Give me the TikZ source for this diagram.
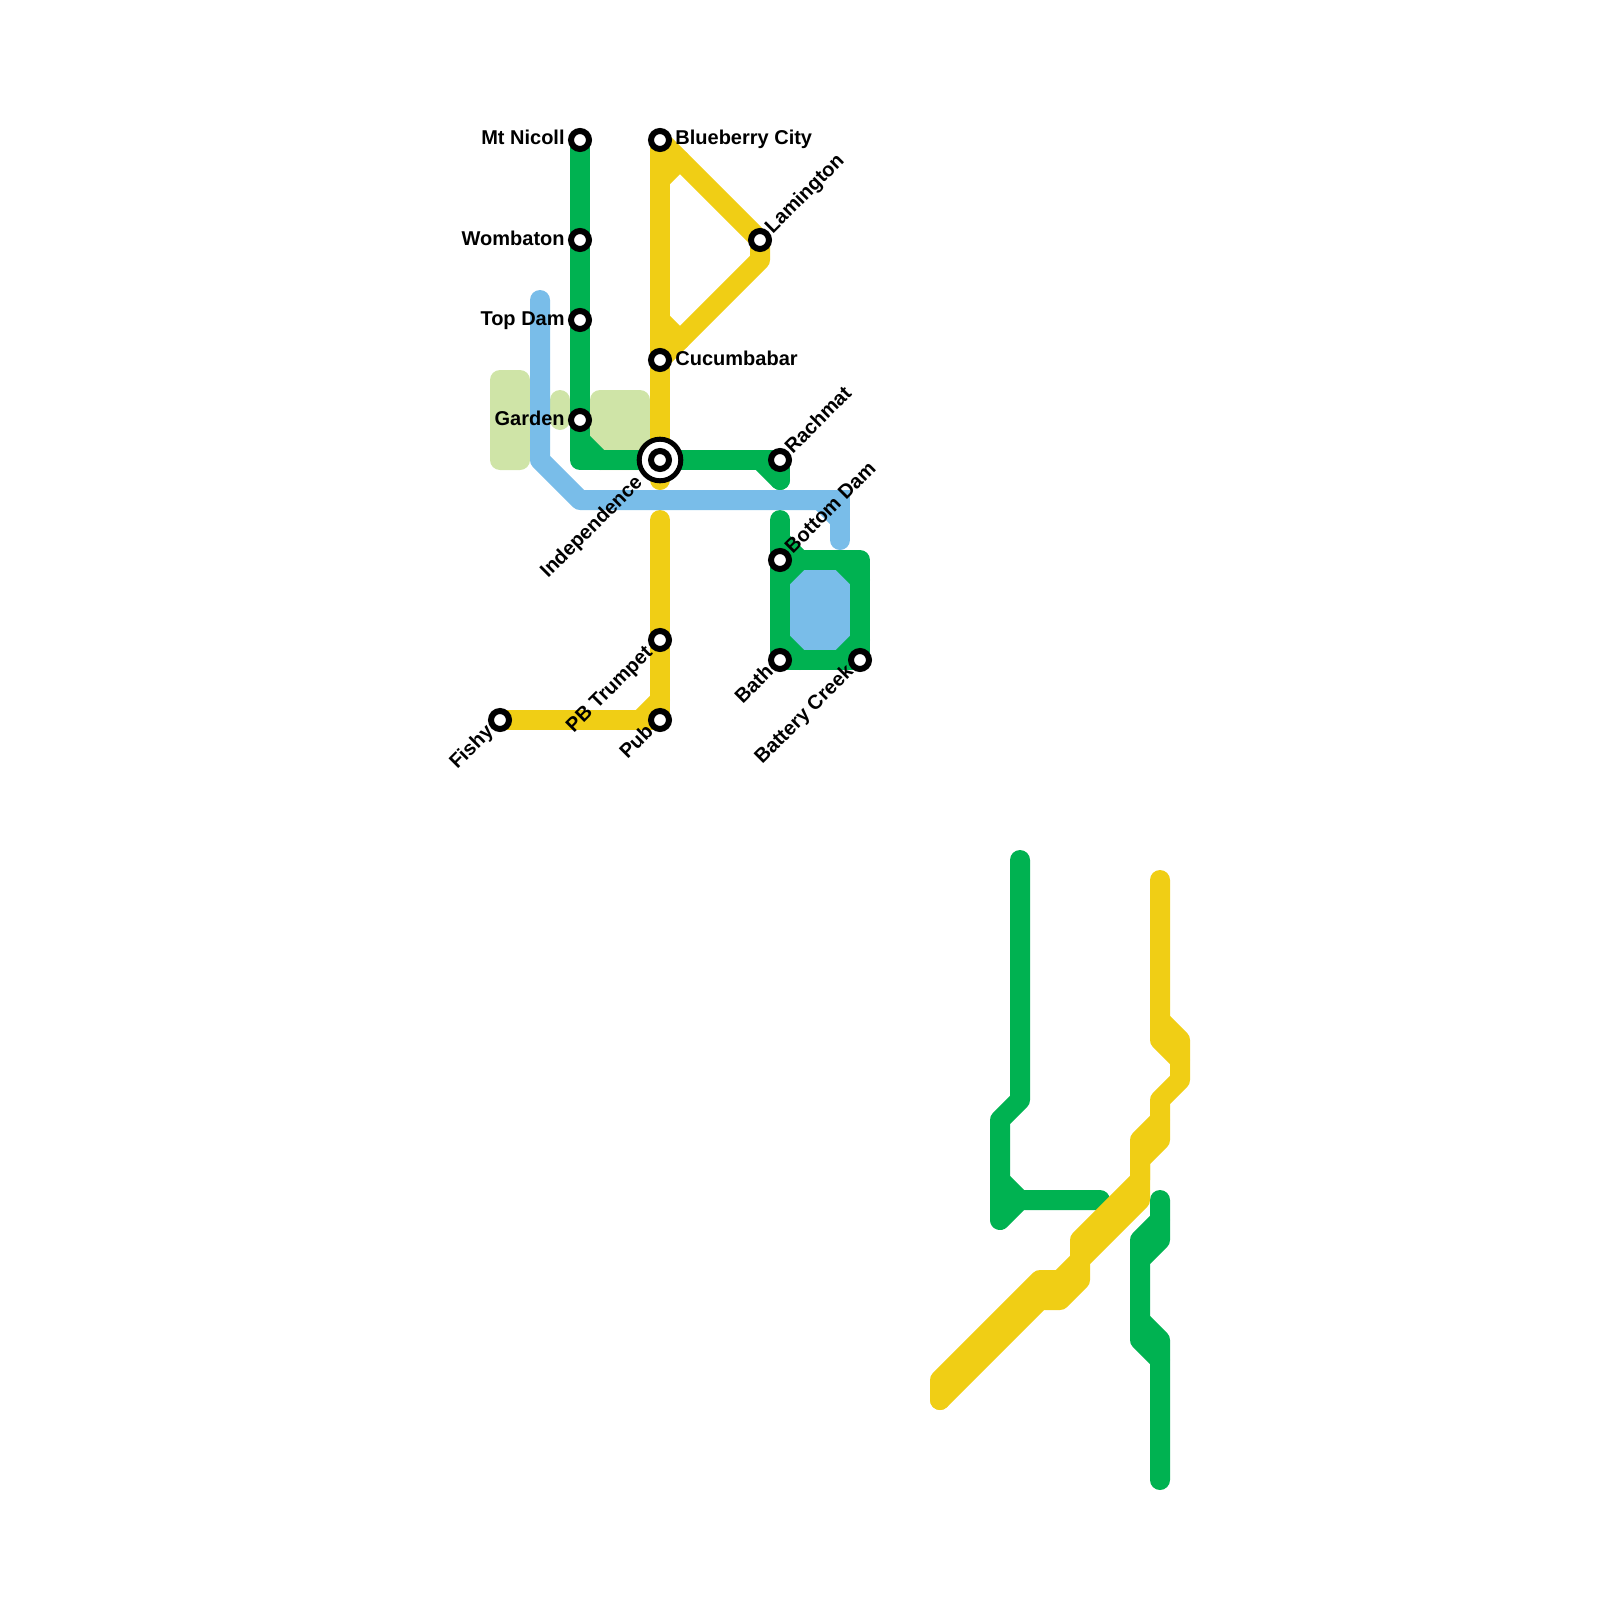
\documentclass[tikz,border=0pt]{standalone}
\usepackage{fontspec}
\setmainfont{Liberation Sans}
\usetikzlibrary{positioning, backgrounds}
\definecolor{grnc}{HTML}{00B251}
\definecolor{ylwc}{HTML}{F0CE15}
\definecolor{bluc}{HTML}{79BDE9}
\definecolor{parkc}{HTML}{CFE4A7}
\tikzset{
  stn/.style={circle, draw=black, fill=white, line width=3pt, minimum size=9pt, inner sep=0pt},
  hub/.style={stn, line width=2.5pt, minimum size=20.8pt},
  lbl/.style={font=\bfseries\fontsize{10}{11}\selectfont, inner sep=0pt, text height=7.5pt, text depth=2.5pt},
  lblup/.style={lbl, rotate=45, anchor=west},
  lbldn/.style={lbl, rotate=45, anchor=east},
  rte/.style={line width=10pt, line cap=round, line join=round},
  grn/.style={rte, draw=grnc},
  ylw/.style={rte, draw=ylwc},
  blu/.style={rte, draw=bluc},
  park/.style={fill=parkc, rounded corners=5pt},
}
\begin{document}
\begin{tikzpicture}[x=0.5pt, y=-0.5pt, node distance=1.5pt]
  \useasboundingbox (0,0) rectangle (1600,1600);
  % stations
  \node[stn] (nicoll) at (580,140) {};
  \node[stn] (wombaton) at (580,240) {};
  \node[stn] (topdam) at (580,320) {};
  \node[stn] (garden) at (580,420) {};
  \node[stn] (blueberry) at (660,140) {};
  \node[stn] (lamington) at (760,240) {};
  \node[stn] (cucumba) at (660,360) {};
  \node[hub] (indepring) at (660,460) {};
  \node[stn] (indep) at (660,460) {};
  \node[stn] (rachmat) at (780,460) {};
  \node[stn] (botdam) at (780,560) {};
  \node[stn] (bath) at (780,660) {};
  \node[stn] (battery) at (860,660) {};
  \node[stn] (trumpet) at (660,640) {};
  \node[stn] (pub) at (660,720) {};
  \node[stn] (fishy) at (500,720) {};
  % labels
  \node[lbl, left=of nicoll] (lnicoll) {Mt Nicoll};
  \node[lbl, left=of wombaton] (lwombaton) {Wombaton};
  \node[lbl, left=of topdam] (ltopdam) {Top Dam};
  \node[lbl, left=of garden] (lgarden) {Garden};
  \node[lbl, right=of blueberry] (lblueberry) {Blueberry City};
  \node[lbl, right=of cucumba] (lcucumba) {Cucumbabar};
  \node[lblup] (llamington) at ([shift={(9,-9)}]lamington.center) {Lamington};
  \node[lblup] (lrachmat) at ([shift={(9,-9)}]rachmat.center) {Rachmat};
  \node[lblup] (lbotdam) at ([shift={(9,-9)}]botdam.center) {Bottom Dam};
  \node[lbldn] (lindep) at ([shift={(-20,20)}]indep.center) {Independence};
  \node[lbldn] (ltrumpet) at ([shift={(-10,10)}]trumpet.center) {PB Trumpet};
  \node[lbldn] (lpub) at ([shift={(-9,9)}]pub.center) {Pub};
  \node[lbldn] (lfishy) at ([shift={(-9,9)}]fishy.center) {Fishy};
  \node[lbldn] (lbath) at ([shift={(-9,9)}]bath.center) {Bath};
  \node[lbldn] (lbattery) at ([shift={(-9,9)}]battery.center) {Battery Creek};
  % bends, upper map
  \coordinate (ga) at (580,440); \coordinate (gb) at (580,460); \coordinate (gc) at (600,460);
  \coordinate (gd) at (760,460); \coordinate (ge) at (780,480); \coordinate (gf) at (780,520);
  \coordinate (gg) at (780,540); \coordinate (gh) at (800,560); \coordinate (gi) at (860,560);
  \coordinate (gj) at (780,580); \coordinate (gk) at (840,560); \coordinate (gl) at (860,580);
  \coordinate (gm) at (860,640); \coordinate (gn) at (840,660); \coordinate (go) at (800,660);
  \coordinate (gp) at (780,640);
  \coordinate (ya) at (660,180); \coordinate (yb) at (680,160); \coordinate (yc) at (760,260);
  \coordinate (yd) at (660,320); \coordinate (ye) at (680,340); \coordinate (yf) at (660,480);
  \coordinate (yg) at (660,520); \coordinate (yh) at (660,700); \coordinate (yi) at (640,720);
  \coordinate (ba) at (540,300); \coordinate (bb) at (540,460); \coordinate (bc) at (580,500);
  \coordinate (bd) at (820,500); \coordinate (be) at (840,500); \coordinate (bf) at (840,520);
  \coordinate (bg) at (840,540);
  % bends, lower map
  \coordinate (pa) at (1020,860); \coordinate (pb) at (1020,1100); \coordinate (pc) at (1000,1120);
  \coordinate (pd) at (1000,1220); \coordinate (pe) at (1020,1200); \coordinate (pf) at (1100,1200);
  \coordinate (pg) at (1000,1180);
  \coordinate (qa) at (1160,1200); \coordinate (qb) at (1160,1240); \coordinate (qc) at (1140,1260);
  \coordinate (qd) at (1140,1340); \coordinate (qe) at (1160,1360); \coordinate (qf) at (1160,1480);
  \coordinate (qg) at (1160,1220); \coordinate (qh) at (1140,1240); \coordinate (qi) at (1140,1320);
  \coordinate (qj) at (1160,1340);
  \coordinate (ra) at (1160,880); \coordinate (rb) at (1160,1040); \coordinate (rc) at (1180,1060);
  \coordinate (rd) at (1160,1020); \coordinate (re) at (1180,1040); \coordinate (rf) at (1180,1080);
  \coordinate (rg) at (1160,1100); \coordinate (rh) at (1160,1140); \coordinate (ri) at (1140,1160);
  \coordinate (rj) at (1140,1200); \coordinate (rk) at (1080,1260); \coordinate (rl) at (1080,1280);
  \coordinate (rm) at (1060,1300); \coordinate (rn) at (1040,1300); \coordinate (ro) at (940,1400);
  \coordinate (sa) at (1160,1120); \coordinate (sb) at (1140,1140); \coordinate (sc) at (1140,1180);
  \coordinate (sd) at (1080,1240); \coordinate (se) at (1060,1280); \coordinate (sf) at (1040,1280);
  \coordinate (sg) at (940,1380);
  \begin{scope}[on background layer]
    \fill[park] (490,370) rectangle (530,470);
    \fill[park] (550,390) rectangle (570,430);
    \fill[park] (590,390) rectangle (650,470);
    \fill[bluc] (790,570) rectangle (850,650);
    % green
    \draw[grn] (nicoll.center)--(wombaton.center)--(topdam.center)--(garden.center)--(gb)--(indep.center)--(rachmat.center)--(ge);
    \draw[grn] (ga)--(gc); \draw[grn] (gd)--(ge);
    \draw[grn] (gf)--(botdam.center)--(bath.center)--(battery.center)--(gi)--(botdam.center);
    \draw[grn] (gg)--(gh); \draw[grn] (gj)--(gh); \draw[grn] (gk)--(gl);
    \draw[grn] (gm)--(gn); \draw[grn] (go)--(gp);
    % yellow
    \draw[ylw] (blueberry.center)--(cucumba.center)--(indep.center)--(yf);
    \draw[ylw] (blueberry.center)--(lamington.center)--(yc)--(cucumba.center);
    \draw[ylw] (ya)--(yb); \draw[ylw] (yd)--(ye);
    \draw[ylw] (yg)--(trumpet.center)--(pub.center)--(fishy.center);
    \draw[ylw] (yh)--(yi);
    % blue
    \draw[blu] (ba)--(bb)--(bc)--(bd);
    \draw[blu, line join=miter] (bd)--(be)--(bg);
    \draw[blu] (bd)--(bf);
    % lower map
    \draw[grn] (pa)--(pb)--(pc)--(pd)--(pe)--(pf);
    \draw[grn] (pg)--(pe);
    \draw[grn] (qa)--(qb)--(qc)--(qd)--(qe)--(qf);
    \draw[grn] (qg)--(qh)--(qc); \draw[grn] (qi)--(qj)--(qe);
    \draw[ylw] (ra)--(rb)--(rc)--(rf)--(rg)--(rh)--(ri)--(rj)--(rk)--(rl)--(rm)--(rn)--(ro);
    \draw[ylw] (rd)--(re)--(rc);
    \draw[ylw] (sa)--(sb)--(sc)--(sd)--(rk)--(se)--(sf)--(sg)--(ro);
  \end{scope}
\end{tikzpicture}
\end{document}
